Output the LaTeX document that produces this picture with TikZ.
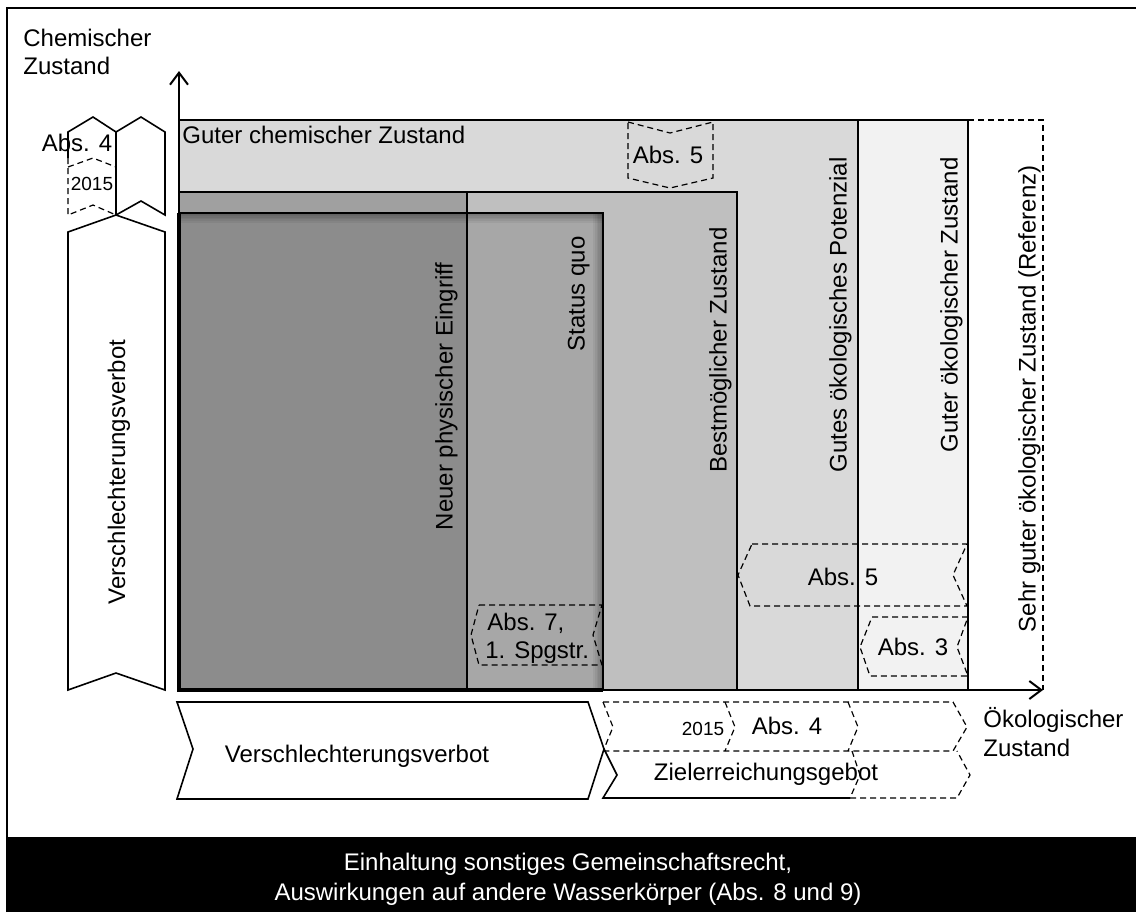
\documentclass[tikz,border=0pt]{standalone}
\usepackage{fontspec}
\setmainfont{Liberation Sans}
\usepackage{tikz}
\usetikzlibrary{arrows.meta}

\definecolor{gutoek}{HTML}{F2F2F2}
\definecolor{potenz}{HTML}{D9D9D9}
\definecolor{bestm}{HTML}{BFBFBF}
\definecolor{neuein}{HTML}{A0A0A0}

\begin{document}
\begin{tikzpicture}[
            x=0.5pt, y=-0.5pt,
            ln/.style={line width=0.8pt},
            dsh/.style={line width=0.6pt, dash pattern=on 3pt off 2pt},
            lab/.style={font=\fontsize{12}{14}\selectfont, inner sep=0pt},
            small/.style={font=\fontsize{9.5}{11}\selectfont, inner sep=0pt},
            vlab/.style={lab, rotate=90, anchor=south east},
            axis/.style={line width=1pt, -{Straight Barb[length=6pt,width=9pt]}}
        ]
            \useasboundingbox (0,0) rectangle (1136,912);

% --- frame and footer ---
            \draw[line width=0.75pt] (7,912) -- (7,8) -- (1136,8);
            \fill[black] (7,837) rectangle (1136,912);
            \node[lab, text=white, anchor=base] (einA) at (568,870) {Einhaltung sonstiges Gemeinschaftsrecht,};
            \node[lab, text=white, anchor=base] (einB) at (568,900) {Auswirkungen auf andere Wasserkörper (Abs. 8 und 9)};

% --- regions ---
            \draw[ln, fill=gutoek] (179,120) rectangle (968,690);
            \draw[ln, fill=potenz] (179,120) rectangle (858,690);
            \draw[ln, fill=bestm] (179,192) rectangle (737,690);
            \draw[ln, fill=neuein] (179,192) rectangle (467,690);
            \draw[dsh] (968,120) -- (1043,120) -- (1043,690);

% --- status quo box with inner shadow ---
            \fill[black, fill opacity=0.12] (179,213) rectangle (603,690);
            \foreach \k in {1,...,6} {
                \fill[black, fill opacity=0.05] (179,213) rectangle (603,213+1.6*\k);
                \fill[black, fill opacity=0.05] (603-1.6*\k,213) rectangle (603,690);
            }
            \draw[line width=1pt] (179,213) -- (603,213) -- (603,690);
            \draw[line width=2pt] (179,213) -- (179,690) -- (603,690);

% --- axes ---
            \coordinate (o) at (179,690);
            \coordinate (ytip) at (179,71);
            \coordinate (xtip) at (1043,690);
            \draw[axis] (o) -- (ytip);
            \draw[axis] (o) -- (xtip);

% --- region labels ---
            \node[lab, anchor=base west] (gcz) at (182,143) {Guter chemischer Zustand};
            \node[vlab] (neu) at (458,262) {Neuer physischer Eingriff};
            \node[vlab] (sq) at (590,236) {Status quo};
            \node[vlab] (best) at (732,227) {Bestmöglicher Zustand};
            \node[vlab] (pot) at (852,157) {Gutes ökologisches Potenzial};
            \node[vlab] (gut) at (963,157) {Guter ökologischer Zustand};
            \node[vlab] (ref) at (1041,165) {Sehr guter ökologischer Zustand (Referenz)};

% --- dashed exceptions ---
            \draw[dsh] (628,122) -- (670,133) -- (713,122) -- (713,178) -- (670,188) -- (628,178) -- cycle;
            \node[lab, anchor=base] (abs5t) at (668,163) {Abs. 5};
            \draw[dsh] (752,544) -- (967,544) -- (953,575) -- (967,606) -- (750,606) -- (738,575) -- cycle;
            \node[lab, anchor=base] (abs5r) at (843,585) {Abs. 5};
            \draw[dsh] (872,617) -- (968,617) -- (957,647) -- (968,676) -- (870,676) -- (860,647) -- cycle;
            \node[lab, anchor=base] (abs3) at (913,655) {Abs. 3};
            \draw[dsh] (479,605) -- (602,605) -- (593,635) -- (602,665) -- (479,665) -- (471,635) -- cycle;
            \node[lab, anchor=base west] (abs7a) at (487,630) {Abs. 7,};
            \node[lab, anchor=base west] (abs7b) at (485,658) {1. Spgstr.};

% --- left chevrons ---
            \draw[ln, fill=white] (116,132) -- (141,117) -- (165,132) -- (165,215) -- (141,201) -- (116,215) -- cycle;
            \draw[ln] (68,158) -- (68,132) -- (93,117) -- (116,132);
            \draw[dsh] (68,158) -- (68,215) -- (93,205) -- (116,215);
            \draw[dsh] (68,167) -- (93,158) -- (116,167);
            \node[lab, anchor=base] (abs4l) at (77,151) {Abs. 4};
            \node[small, anchor=base] (y15l) at (92,190) {2015};
            \draw[ln, fill=white] (68,232) -- (116,215) -- (165,232) -- (165,690) -- (116,673) -- (68,690) -- cycle;
            \node[lab, rotate=90] (vvl) at (119,472) {Verschlechterungsverbot};

% --- bottom chevrons ---
            \draw[ln, fill=white] (177,702) -- (588,702) -- (604,749) -- (588,799) -- (177,799) -- (193,749) -- cycle;
            \node[lab, anchor=base] (vvb) at (357,762) {Verschlechterungsverbot};
            \draw[dsh] (603,702) -- (953,702) -- (967,727) -- (953,751) -- (604,751);
            \draw[dsh] (603,702) -- (613,727) -- (604,749);
            \draw[dsh] (725,702) -- (735,727) -- (725,751);
            \draw[dsh] (848,702) -- (858,727) -- (848,751);
            \draw[ln] (604,749) -- (617,775) -- (603,798) -- (850,798);
            \draw[dsh] (850,798) -- (957,798) -- (970,775) -- (957,751);
            \draw[dsh] (852,751) -- (860,775) -- (850,798);
            \node[small, anchor=base] (y15b) at (703,735) {2015};
            \node[lab, anchor=base] (abs4b) at (787,734) {Abs. 4};
            \node[lab, anchor=base] (ziel) at (766,780) {Zielerreichungsgebot};

% --- axis labels ---
            \node[lab, anchor=base west] (chemA) at (23,46) {Chemischer};
            \node[lab, anchor=base west] (chemB) at (23,74) {Zustand};
            \node[lab, anchor=base west] (oekA) at (983,727) {Ökologischer};
            \node[lab, anchor=base west] (oekB) at (983,756) {Zustand};

        \end{tikzpicture}
\end{document}
